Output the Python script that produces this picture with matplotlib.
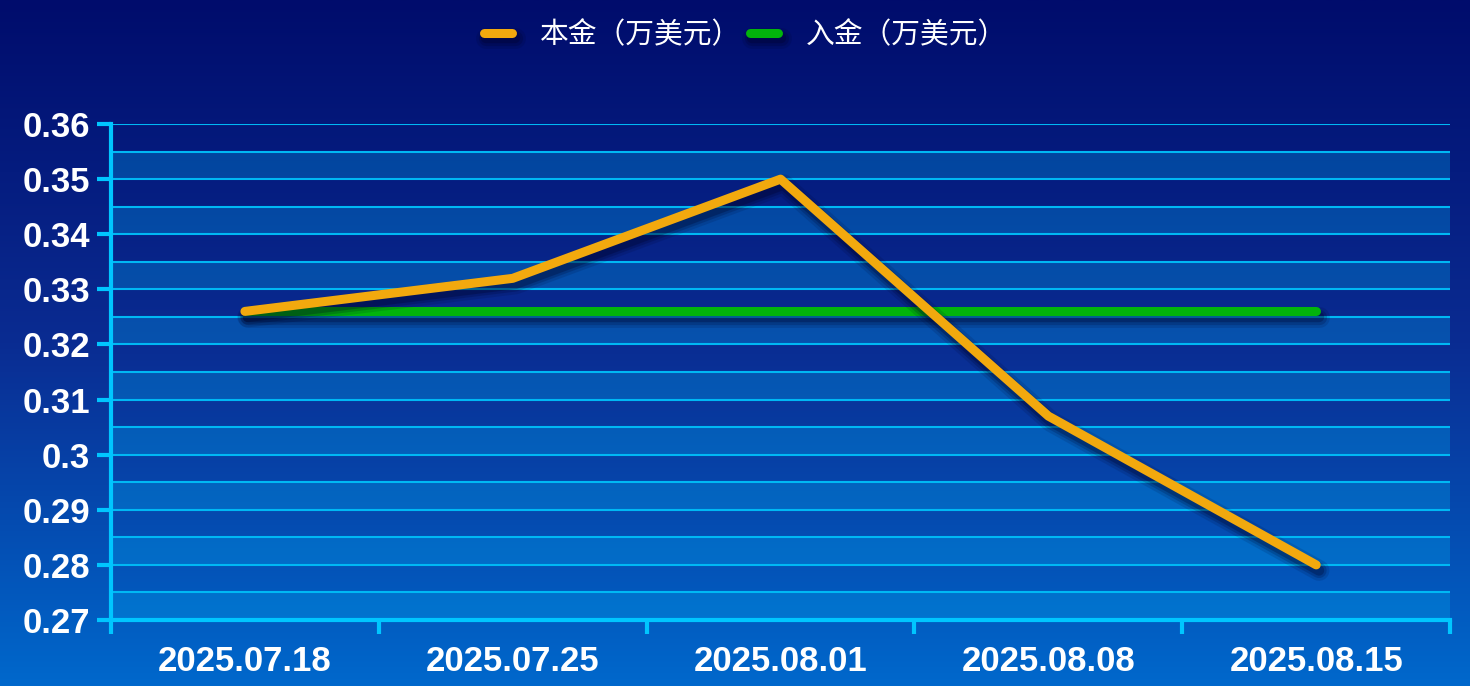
import numpy as np
import matplotlib
matplotlib.use("Agg")
import matplotlib.pyplot as plt
import matplotlib.patheffects as pe
from matplotlib.colors import LinearSegmentedColormap

# data
dates = ["2025.07.18", "2025.07.25", "2025.08.01", "2025.08.08", "2025.08.15"]
principal = [0.326, 0.332, 0.350, 0.307, 0.280]
deposit = [0.326, 0.326, 0.326, 0.326, 0.326]
series_names = ["本金（万美元）", "入金（万美元）"]
y_min, y_max = 0.27, 0.36

cjk = ["Noto Sans CJK SC", "DejaVu Sans"]
cyan = "#00c6ff"

fig = plt.figure(figsize=(14.7, 6.86), dpi=100)

# gradient background over the whole figure
bg = fig.add_axes([0, 0, 1, 1], zorder=-10)
cmap = LinearSegmentedColormap.from_list("bg", ["#000c6c", "#0a2c92", "#0068cc"])
grad = np.linspace(0, 1, 256).reshape(-1, 1)
bg.imshow(grad, aspect="auto", cmap=cmap, extent=[0, 1, 0, 1], origin="upper")
bg.axis("off")

ax = fig.add_axes([0.0755, 0.0962, 0.911, 0.7230])
ax.patch.set_alpha(0)

x = np.arange(len(dates))
ax.set_xlim(-0.5, len(dates) - 0.5)
ax.set_ylim(y_min, y_max)

# alternating bands
minor = np.round(np.arange(y_min, y_max + 1e-9, 0.005), 3)
for i, lo in enumerate(minor[:-1]):
    if i % 2 == 0:
        ax.axhspan(lo, lo + 0.005, color="#00aaf0", alpha=0.3, lw=0, zorder=0)
for v in minor[1:]:
    ax.axhline(v, color="#00b8f4", lw=1.5, zorder=1)


def shadow():
    return [pe.SimpleLineShadow(offset=(2, -4), shadow_color="#000022", alpha=0.12, linewidth=15),
            pe.SimpleLineShadow(offset=(2, -4), shadow_color="#000022", alpha=0.18, linewidth=11),
            pe.SimpleLineShadow(offset=(2, -4), shadow_color="#000022", alpha=0.25, linewidth=7.5),
            pe.Normal()]


ax.plot(x, principal, color="#f2a90e", lw=6.5, solid_capstyle="round", solid_joinstyle="round",
        label=series_names[0], zorder=4, path_effects=shadow())
ax.plot(x, deposit, color="#02b40c", lw=6.5, solid_capstyle="round", solid_joinstyle="round",
        label=series_names[1], zorder=3, path_effects=shadow())

# axes styling
for s in ["top", "right"]:
    ax.spines[s].set_visible(False)
for s in ["left", "bottom"]:
    ax.spines[s].set_color(cyan)
    ax.spines[s].set_linewidth(3)
    ax.spines[s].set_zorder(5)

yt = np.round(np.arange(y_min, y_max + 1e-9, 0.01), 2)
ax.set_yticks(yt)
ax.set_yticklabels([f"{v:g}" for v in yt])
ax.tick_params(axis="y", colors=cyan, length=10, width=3, pad=5,
               labelcolor="white", labelsize=25)
ax.set_xticks(np.arange(-0.5, len(dates)), minor=False)
ax.set_xticklabels([""] * (len(dates) + 1))
ax.set_xticks(x, minor=True)
ax.set_xticklabels(dates, minor=True)
ax.tick_params(axis="x", which="major", colors=cyan, length=10, width=3)
ax.tick_params(axis="x", which="minor", length=0, pad=18, labelcolor="white", labelsize=25)
for lab in ax.get_yticklabels() + ax.get_xticklabels(minor=True):
    lab.set_fontfamily("Liberation Sans")
    lab.set_fontweight("bold")

leg = ax.legend(loc="center", bbox_to_anchor=(0.507, 0.949), bbox_transform=fig.transFigure,
                ncol=2, frameon=False, handlelength=1.0, handletextpad=0.95, columnspacing=0.3,
                prop={"family": cjk, "size": 20.7})
for t in leg.get_texts():
    t.set_color("white")

fig.savefig("out.png", dpi=100)
